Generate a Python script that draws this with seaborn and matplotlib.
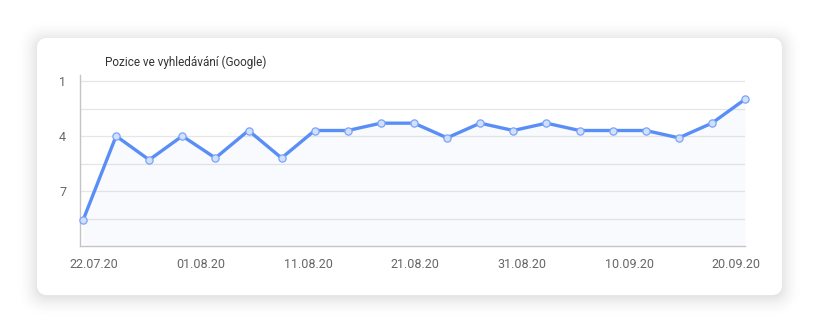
import matplotlib
matplotlib.use("Agg")
import matplotlib.pyplot as plt
from matplotlib.patches import FancyBboxPatch
import numpy as np
import pandas as pd
import seaborn as sns

title = "Pozice ve vyhledávání (Google)"
dates = ["22.07.20", "25.07.20", "28.07.20", "31.07.20", "03.08.20", "06.08.20", "09.08.20",
         "12.08.20", "15.08.20", "18.08.20", "21.08.20", "24.08.20", "27.08.20", "30.08.20",
         "02.09.20", "05.09.20", "08.09.20", "11.09.20", "14.09.20", "17.09.20", "20.09.20"]
positions = [8.6, 4.0, 5.3, 4.0, 5.2, 3.7, 5.2, 3.7, 3.7, 3.3, 3.3, 4.1, 3.3, 3.7,
             3.3, 3.7, 3.7, 3.7, 4.1, 3.3, 2.0]
x_labels = ["22.07.20", "01.08.20", "11.08.20", "21.08.20", "31.08.20", "10.09.20", "20.09.20"]
y_ticks = [1, 4, 7]

dt = pd.to_datetime(dates, format="%d.%m.%y")
days = (dt - dt[0]).days.astype(float)
df = pd.DataFrame({"day": days, "pos": positions})

sns.set_theme(style="white")
plt.rcParams["font.family"] = ["Roboto", "DejaVu Sans"]

W, H = 819, 320
fig = plt.figure(figsize=(W / 100, H / 100), dpi=100)
fig.patch.set_facecolor("white")

# card with soft shadow
bg = fig.add_axes([0, 0, 1, 1])
bg.set_xlim(0, W)
bg.set_ylim(H, 0)
bg.axis("off")
for i, a in enumerate(np.linspace(0.018, 0.004, 9)):
    g = 2 + i * 2.2
    bg.add_patch(FancyBboxPatch((37 - g + 1, 38 - g + 3), 745 + 2 * g - 2, 257 + 2 * g - 2,
                                boxstyle=f"round,pad=0,rounding_size={10 + g}",
                                fc="black", ec="none", alpha=a))
bg.add_patch(FancyBboxPatch((37, 38), 745, 257, boxstyle="round,pad=0,rounding_size=10",
                            fc="white", ec="none"))

px_per_day = (745 - 83) / 60.0
ax = fig.add_axes([80 / W, (H - 246) / H, (745 - 80) / W, (246 - 75) / H])
ax.set_facecolor("none")

line_c = "#5a8ef7"
sns.lineplot(data=df, x="day", y="pos", ax=ax, color=line_c, linewidth=2.4,
             marker="o", markersize=5.2, markerfacecolor="#d0e0fd",
             markeredgecolor="#7aa4f8", markeredgewidth=0.9, clip_on=False, zorder=5)
ax.fill_between(df["day"], df["pos"], 10, color="#4a7ff5", alpha=0.035, lw=0, zorder=1)

ax.set_xlim(-3 / px_per_day, 60)
ax.set_ylim(10, 1 - 6 / 18.33)

for gy in [1, 2.5, 4, 5.5, 7, 8.5]:
    ax.axhline(gy, color="#e6e6e6", lw=0.9, zorder=0)

ax.set_yticks(y_ticks)
ax.set_yticklabels([str(v) for v in y_ticks])
tick_days = np.linspace((94 - 83) / px_per_day, (736 - 83) / px_per_day, len(x_labels))
ax.set_xticks(tick_days)
ax.set_xticklabels(x_labels)
ax.tick_params(axis="both", length=0, labelsize=9, labelcolor="#666666")
ax.tick_params(axis="x", pad=9)
ax.tick_params(axis="y", pad=10)
ax.set_xlabel("")
ax.set_ylabel("")

for s in ["top", "right"]:
    ax.spines[s].set_visible(False)
for s in ["left", "bottom"]:
    ax.spines[s].set_color("#c4c4c4")
    ax.spines[s].set_linewidth(1.0)

fig.text(105 / W, 1 - 62 / H, title, fontsize=8.5, color="#333333", va="center", ha="left")

fig.savefig("out.png", dpi=100)
